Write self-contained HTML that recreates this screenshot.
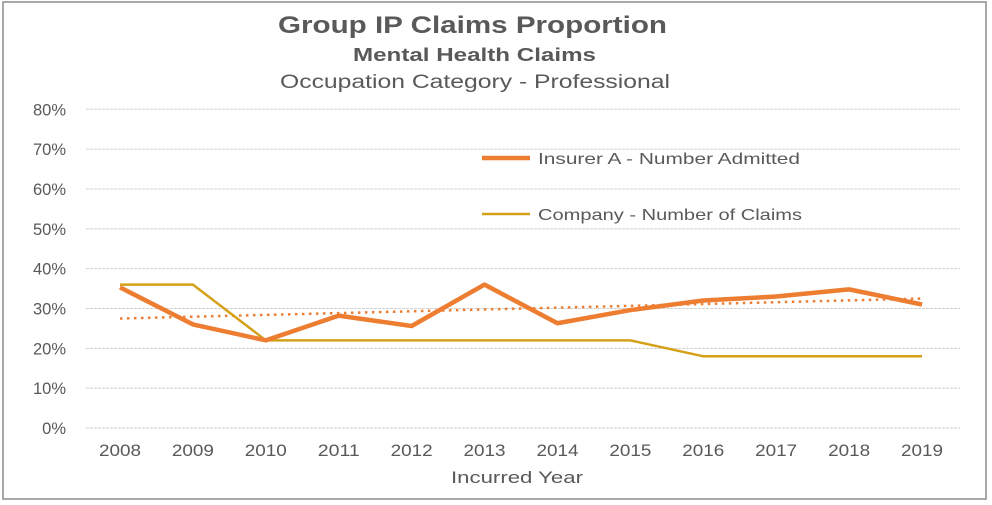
<!DOCTYPE html>
<html><head><meta charset="utf-8"><style>
body{margin:0;background:#fff;}
svg{display:block;font-family:"Liberation Sans",sans-serif;}
</style></head><body>
<svg id="chart" width="992" height="505" viewBox="0 0 992 505">
<rect x="3" y="2" width="983" height="497" fill="#fff" stroke="#8c8c8c" stroke-width="1.5"/>
<text x="278" y="33" font-size="24" font-weight="bold" fill="#595959" textLength="389" lengthAdjust="spacingAndGlyphs">Group IP Claims Proportion</text>
<text x="353" y="61" font-size="18" font-weight="bold" fill="#595959" textLength="243" lengthAdjust="spacingAndGlyphs">Mental Health Claims</text>
<text x="280" y="88" font-size="19" fill="#595959" textLength="390" lengthAdjust="spacingAndGlyphs">Occupation Category - Professional</text>
<g id="grid"></g><g id="yticks"></g><g id="xticks"></g><g id="series"></g>
<text x="451" y="483" font-size="17" fill="#595959" textLength="132" lengthAdjust="spacingAndGlyphs">Incurred Year</text>
<g>
<line x1="482" y1="158" x2="530" y2="158" stroke="#ED7D31" stroke-width="4.5"/>
<text x="538" y="164" font-size="16" fill="#595959" textLength="262" lengthAdjust="spacingAndGlyphs">Insurer A - Number Admitted</text>
<line x1="482" y1="214" x2="530" y2="214" stroke="#D4A017" stroke-width="2.5"/>
<text x="538" y="220" font-size="16" fill="#595959" textLength="264" lengthAdjust="spacingAndGlyphs">Company - Number of Claims</text>
</g>
</svg>
<script>
const years=["2008","2009","2010","2011","2012","2013","2014","2015","2016","2017","2018","2019"];
const insurerA=[35.3,26,22,28.2,25.6,36,26.3,29.6,32,33,34.8,31];
const company=[36,36,22,22,22,22,22,22,18,18,18,18];
const yTicks=[0,10,20,30,40,50,60,70,80];
const NS="http://www.w3.org/2000/svg";
const x0=120,x1=922,yb=428,yt=109.3;
const xs=i=>x0+i*(x1-x0)/(years.length-1);
const ys=v=>yb-v/80*(yb-yt);
function mk(t,a,p){const e=document.createElementNS(NS,t);for(const k in a)e.setAttribute(k,a[k]);document.getElementById(p).appendChild(e);return e;}
yTicks.forEach(v=>{
 const l=mk('line',{x1:86,x2:960,y1:ys(v),y2:ys(v),stroke:'#d0d0d0','stroke-width':1,'stroke-dasharray':'3 1'},'grid');
 
 
 const t=mk('text',{x:66,y:ys(v)+6,'text-anchor':'end','font-size':16.5,fill:'#595959'},'yticks');
 t.textContent=v+'%';
 
 
});
years.forEach((y,i)=>{
 const t=mk('text',{x:xs(i),y:456,'text-anchor':'middle','font-size':16.5,fill:'#595959','textLength':42,'lengthAdjust':'spacingAndGlyphs'},'xticks');
 t.textContent=y;
 
 
});
const n=insurerA.length;let sx=0,sy=0,sxy=0,sxx=0;
insurerA.forEach((v,i)=>{sx+=i;sy+=v;sxy+=i*v;sxx+=i*i;});
const b=(n*sxy-sx*sy)/(n*sxx-sx*sx),a=(sy-b*sx)/n;
const tr=mk('line',{x1:xs(0),y1:ys(a),x2:xs(n-1),y2:ys(a+b*(n-1)),stroke:'#ED7D31','stroke-width':2.5,'stroke-dasharray':'2.5 4.5'},'series');


const pc=mk('polyline',{points:company.map((v,i)=>xs(i)+','+ys(v)).join(' '),fill:'none',stroke:'#D4A017','stroke-width':2.5},'series');


const pa=mk('polyline',{points:insurerA.map((v,i)=>xs(i)+','+ys(v)).join(' '),fill:'none',stroke:'#ED7D31','stroke-width':4.5,'stroke-linejoin':'round'},'series');


</script>
</body></html>
